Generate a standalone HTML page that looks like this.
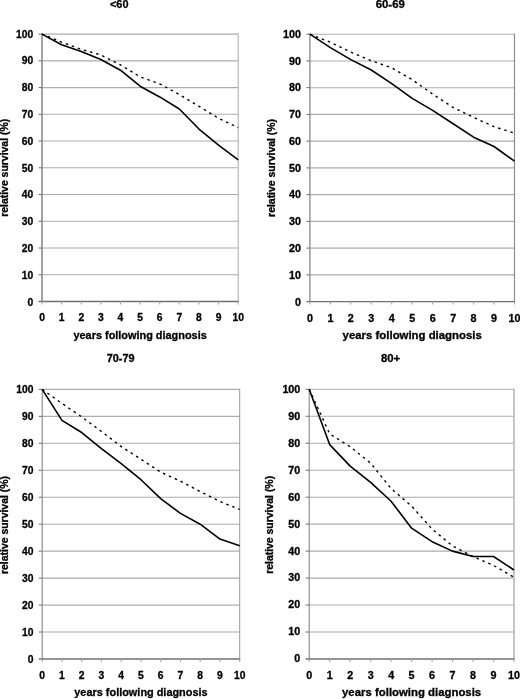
<!DOCTYPE html><html><head><meta charset="utf-8"><title>Relative survival</title>
<style>html,body{margin:0;padding:0;background:#fff;overflow:hidden}svg{display:block}text{stroke:#000;stroke-width:0.3px;font-family:"Liberation Sans",sans-serif;font-weight:bold;fill:#000}</style></head><body>
<svg width="520" height="699" viewBox="0 0 520 699">
<rect width="520" height="699" fill="#fff"/>
<g><line x1="42.00" y1="34.10" x2="238.20" y2="34.10" stroke="#adadad" stroke-width="1.1"/>
<line x1="42.00" y1="60.84" x2="238.20" y2="60.84" stroke="#adadad" stroke-width="1.1"/>
<line x1="42.00" y1="87.58" x2="238.20" y2="87.58" stroke="#adadad" stroke-width="1.1"/>
<line x1="42.00" y1="114.32" x2="238.20" y2="114.32" stroke="#adadad" stroke-width="1.1"/>
<line x1="42.00" y1="141.06" x2="238.20" y2="141.06" stroke="#adadad" stroke-width="1.1"/>
<line x1="42.00" y1="167.80" x2="238.20" y2="167.80" stroke="#adadad" stroke-width="1.1"/>
<line x1="42.00" y1="194.54" x2="238.20" y2="194.54" stroke="#adadad" stroke-width="1.1"/>
<line x1="42.00" y1="221.28" x2="238.20" y2="221.28" stroke="#adadad" stroke-width="1.1"/>
<line x1="42.00" y1="248.02" x2="238.20" y2="248.02" stroke="#adadad" stroke-width="1.1"/>
<line x1="42.00" y1="274.76" x2="238.20" y2="274.76" stroke="#adadad" stroke-width="1.1"/>
<line x1="238.20" y1="33.60" x2="238.20" y2="302.00" stroke="#b8b8b8" stroke-width="1.2"/>
<line x1="42.00" y1="33.60" x2="42.00" y2="302.00" stroke="#858585" stroke-width="1.5"/>
<line x1="38.50" y1="301.50" x2="238.70" y2="301.50" stroke="#707070" stroke-width="1.3"/>
<line x1="38.50" y1="34.10" x2="42.00" y2="34.10" stroke="#707070" stroke-width="1"/>
<line x1="38.50" y1="60.84" x2="42.00" y2="60.84" stroke="#707070" stroke-width="1"/>
<line x1="38.50" y1="87.58" x2="42.00" y2="87.58" stroke="#707070" stroke-width="1"/>
<line x1="38.50" y1="114.32" x2="42.00" y2="114.32" stroke="#707070" stroke-width="1"/>
<line x1="38.50" y1="141.06" x2="42.00" y2="141.06" stroke="#707070" stroke-width="1"/>
<line x1="38.50" y1="167.80" x2="42.00" y2="167.80" stroke="#707070" stroke-width="1"/>
<line x1="38.50" y1="194.54" x2="42.00" y2="194.54" stroke="#707070" stroke-width="1"/>
<line x1="38.50" y1="221.28" x2="42.00" y2="221.28" stroke="#707070" stroke-width="1"/>
<line x1="38.50" y1="248.02" x2="42.00" y2="248.02" stroke="#707070" stroke-width="1"/>
<line x1="38.50" y1="274.76" x2="42.00" y2="274.76" stroke="#707070" stroke-width="1"/>
<line x1="42.00" y1="301.50" x2="42.00" y2="304.50" stroke="#a8a8a8" stroke-width="1.1"/>
<line x1="61.62" y1="301.50" x2="61.62" y2="304.50" stroke="#a8a8a8" stroke-width="1.1"/>
<line x1="81.24" y1="301.50" x2="81.24" y2="304.50" stroke="#a8a8a8" stroke-width="1.1"/>
<line x1="100.86" y1="301.50" x2="100.86" y2="304.50" stroke="#a8a8a8" stroke-width="1.1"/>
<line x1="120.48" y1="301.50" x2="120.48" y2="304.50" stroke="#a8a8a8" stroke-width="1.1"/>
<line x1="140.10" y1="301.50" x2="140.10" y2="304.50" stroke="#a8a8a8" stroke-width="1.1"/>
<line x1="159.72" y1="301.50" x2="159.72" y2="304.50" stroke="#a8a8a8" stroke-width="1.1"/>
<line x1="179.34" y1="301.50" x2="179.34" y2="304.50" stroke="#a8a8a8" stroke-width="1.1"/>
<line x1="198.96" y1="301.50" x2="198.96" y2="304.50" stroke="#a8a8a8" stroke-width="1.1"/>
<line x1="218.58" y1="301.50" x2="218.58" y2="304.50" stroke="#a8a8a8" stroke-width="1.1"/>
<line x1="238.20" y1="301.50" x2="238.20" y2="304.50" stroke="#a8a8a8" stroke-width="1.1"/>
<text transform="translate(33.30 37.60) scale(1.0 1)" font-size="10.3" text-anchor="end">100</text>
<text transform="translate(33.30 64.40) scale(1.0 1)" font-size="10.3" text-anchor="end">90</text>
<text transform="translate(33.30 91.19) scale(1.0 1)" font-size="10.3" text-anchor="end">80</text>
<text transform="translate(33.30 117.98) scale(1.0 1)" font-size="10.3" text-anchor="end">70</text>
<text transform="translate(33.30 144.78) scale(1.0 1)" font-size="10.3" text-anchor="end">60</text>
<text transform="translate(33.30 171.57) scale(1.0 1)" font-size="10.3" text-anchor="end">50</text>
<text transform="translate(33.30 198.37) scale(1.0 1)" font-size="10.3" text-anchor="end">40</text>
<text transform="translate(33.30 225.16) scale(1.0 1)" font-size="10.3" text-anchor="end">30</text>
<text transform="translate(33.30 251.96) scale(1.0 1)" font-size="10.3" text-anchor="end">20</text>
<text transform="translate(33.30 278.75) scale(1.0 1)" font-size="10.3" text-anchor="end">10</text>
<text transform="translate(33.30 305.55) scale(1.0 1)" font-size="10.3" text-anchor="end">0</text>
<text transform="translate(42.00 321.40) scale(1.0 1)" font-size="10.3" text-anchor="middle">0</text>
<text transform="translate(61.62 321.40) scale(1.0 1)" font-size="10.3" text-anchor="middle">1</text>
<text transform="translate(81.24 321.40) scale(1.0 1)" font-size="10.3" text-anchor="middle">2</text>
<text transform="translate(100.86 321.40) scale(1.0 1)" font-size="10.3" text-anchor="middle">3</text>
<text transform="translate(120.48 321.40) scale(1.0 1)" font-size="10.3" text-anchor="middle">4</text>
<text transform="translate(140.10 321.40) scale(1.0 1)" font-size="10.3" text-anchor="middle">5</text>
<text transform="translate(159.72 321.40) scale(1.0 1)" font-size="10.3" text-anchor="middle">6</text>
<text transform="translate(179.34 321.40) scale(1.0 1)" font-size="10.3" text-anchor="middle">7</text>
<text transform="translate(198.96 321.40) scale(1.0 1)" font-size="10.3" text-anchor="middle">8</text>
<text transform="translate(218.58 321.40) scale(1.0 1)" font-size="10.3" text-anchor="middle">9</text>
<text transform="translate(238.20 321.40) scale(1.0 1)" font-size="10.3" text-anchor="middle">10</text>
<text transform="translate(119.20 7.75) scale(1.0 1)" font-size="10.9" text-anchor="middle">&lt;60</text>
<text transform="translate(140.10 338.90) scale(1.0 1)" font-size="10.9" text-anchor="middle" textLength="133.3" lengthAdjust="spacing">years following diagnosis</text>
<text transform="translate(8.10 167.80) scale(1.0 1) rotate(-90)" font-size="10.5" text-anchor="middle" textLength="98" lengthAdjust="spacing">relative survival (%)</text>
<polyline points="42.00,34.10 61.62,42.12 81.24,49.34 100.86,54.96 120.48,64.85 140.10,76.88 159.72,83.84 179.34,94.53 198.96,106.30 218.58,118.33 238.20,127.69" fill="none" stroke="#000" stroke-width="1.4" stroke-dasharray="2.5 3.9"/>
<polyline points="42.00,34.10 61.62,44.80 81.24,51.48 100.86,59.50 120.48,70.20 140.10,86.24 159.72,96.94 179.34,108.97 198.96,129.03 218.58,145.07 238.20,159.78" fill="none" stroke="#000" stroke-width="1.6" stroke-linejoin="round"/></g>
<g><line x1="309.90" y1="34.20" x2="514.50" y2="34.20" stroke="#adadad" stroke-width="1.1"/>
<line x1="309.90" y1="60.94" x2="514.50" y2="60.94" stroke="#adadad" stroke-width="1.1"/>
<line x1="309.90" y1="87.68" x2="514.50" y2="87.68" stroke="#adadad" stroke-width="1.1"/>
<line x1="309.90" y1="114.42" x2="514.50" y2="114.42" stroke="#adadad" stroke-width="1.1"/>
<line x1="309.90" y1="141.16" x2="514.50" y2="141.16" stroke="#adadad" stroke-width="1.1"/>
<line x1="309.90" y1="167.90" x2="514.50" y2="167.90" stroke="#adadad" stroke-width="1.1"/>
<line x1="309.90" y1="194.64" x2="514.50" y2="194.64" stroke="#adadad" stroke-width="1.1"/>
<line x1="309.90" y1="221.38" x2="514.50" y2="221.38" stroke="#adadad" stroke-width="1.1"/>
<line x1="309.90" y1="248.12" x2="514.50" y2="248.12" stroke="#adadad" stroke-width="1.1"/>
<line x1="309.90" y1="274.86" x2="514.50" y2="274.86" stroke="#adadad" stroke-width="1.1"/>
<line x1="514.50" y1="33.70" x2="514.50" y2="302.10" stroke="#888" stroke-width="1.1"/>
<line x1="309.90" y1="33.70" x2="309.90" y2="302.10" stroke="#888" stroke-width="1.3"/>
<line x1="306.40" y1="301.60" x2="515.00" y2="301.60" stroke="#707070" stroke-width="1.3"/>
<line x1="306.40" y1="34.20" x2="309.90" y2="34.20" stroke="#707070" stroke-width="1"/>
<line x1="306.40" y1="60.94" x2="309.90" y2="60.94" stroke="#707070" stroke-width="1"/>
<line x1="306.40" y1="87.68" x2="309.90" y2="87.68" stroke="#707070" stroke-width="1"/>
<line x1="306.40" y1="114.42" x2="309.90" y2="114.42" stroke="#707070" stroke-width="1"/>
<line x1="306.40" y1="141.16" x2="309.90" y2="141.16" stroke="#707070" stroke-width="1"/>
<line x1="306.40" y1="167.90" x2="309.90" y2="167.90" stroke="#707070" stroke-width="1"/>
<line x1="306.40" y1="194.64" x2="309.90" y2="194.64" stroke="#707070" stroke-width="1"/>
<line x1="306.40" y1="221.38" x2="309.90" y2="221.38" stroke="#707070" stroke-width="1"/>
<line x1="306.40" y1="248.12" x2="309.90" y2="248.12" stroke="#707070" stroke-width="1"/>
<line x1="306.40" y1="274.86" x2="309.90" y2="274.86" stroke="#707070" stroke-width="1"/>
<line x1="309.90" y1="301.60" x2="309.90" y2="304.60" stroke="#a8a8a8" stroke-width="1.1"/>
<line x1="330.36" y1="301.60" x2="330.36" y2="304.60" stroke="#a8a8a8" stroke-width="1.1"/>
<line x1="350.82" y1="301.60" x2="350.82" y2="304.60" stroke="#a8a8a8" stroke-width="1.1"/>
<line x1="371.28" y1="301.60" x2="371.28" y2="304.60" stroke="#a8a8a8" stroke-width="1.1"/>
<line x1="391.74" y1="301.60" x2="391.74" y2="304.60" stroke="#a8a8a8" stroke-width="1.1"/>
<line x1="412.20" y1="301.60" x2="412.20" y2="304.60" stroke="#a8a8a8" stroke-width="1.1"/>
<line x1="432.66" y1="301.60" x2="432.66" y2="304.60" stroke="#a8a8a8" stroke-width="1.1"/>
<line x1="453.12" y1="301.60" x2="453.12" y2="304.60" stroke="#a8a8a8" stroke-width="1.1"/>
<line x1="473.58" y1="301.60" x2="473.58" y2="304.60" stroke="#a8a8a8" stroke-width="1.1"/>
<line x1="494.04" y1="301.60" x2="494.04" y2="304.60" stroke="#a8a8a8" stroke-width="1.1"/>
<line x1="514.50" y1="301.60" x2="514.50" y2="304.60" stroke="#a8a8a8" stroke-width="1.1"/>
<text transform="translate(300.90 37.70) scale(1.044 1)" font-size="10.3" text-anchor="end">100</text>
<text transform="translate(300.90 64.50) scale(1.044 1)" font-size="10.3" text-anchor="end">90</text>
<text transform="translate(300.90 91.29) scale(1.044 1)" font-size="10.3" text-anchor="end">80</text>
<text transform="translate(300.90 118.09) scale(1.044 1)" font-size="10.3" text-anchor="end">70</text>
<text transform="translate(300.90 144.88) scale(1.044 1)" font-size="10.3" text-anchor="end">60</text>
<text transform="translate(300.90 171.68) scale(1.044 1)" font-size="10.3" text-anchor="end">50</text>
<text transform="translate(300.90 198.47) scale(1.044 1)" font-size="10.3" text-anchor="end">40</text>
<text transform="translate(300.90 225.26) scale(1.044 1)" font-size="10.3" text-anchor="end">30</text>
<text transform="translate(300.90 252.06) scale(1.044 1)" font-size="10.3" text-anchor="end">20</text>
<text transform="translate(300.90 278.86) scale(1.044 1)" font-size="10.3" text-anchor="end">10</text>
<text transform="translate(300.90 305.65) scale(1.044 1)" font-size="10.3" text-anchor="end">0</text>
<text transform="translate(309.90 321.50) scale(1.044 1)" font-size="10.3" text-anchor="middle">0</text>
<text transform="translate(330.36 321.50) scale(1.044 1)" font-size="10.3" text-anchor="middle">1</text>
<text transform="translate(350.82 321.50) scale(1.044 1)" font-size="10.3" text-anchor="middle">2</text>
<text transform="translate(371.28 321.50) scale(1.044 1)" font-size="10.3" text-anchor="middle">3</text>
<text transform="translate(391.74 321.50) scale(1.044 1)" font-size="10.3" text-anchor="middle">4</text>
<text transform="translate(412.20 321.50) scale(1.044 1)" font-size="10.3" text-anchor="middle">5</text>
<text transform="translate(432.66 321.50) scale(1.044 1)" font-size="10.3" text-anchor="middle">6</text>
<text transform="translate(453.12 321.50) scale(1.044 1)" font-size="10.3" text-anchor="middle">7</text>
<text transform="translate(473.58 321.50) scale(1.044 1)" font-size="10.3" text-anchor="middle">8</text>
<text transform="translate(494.04 321.50) scale(1.044 1)" font-size="10.3" text-anchor="middle">9</text>
<text transform="translate(514.50 321.50) scale(1.044 1)" font-size="10.3" text-anchor="middle">10</text>
<text transform="translate(390.25 7.80) scale(1.044 1)" font-size="10.9" text-anchor="middle">60-69</text>
<text transform="translate(412.20 339.00) scale(1.044 1)" font-size="10.9" text-anchor="middle" textLength="133.3" lengthAdjust="spacing">years following diagnosis</text>
<text transform="translate(274.80 167.90) scale(1.044 1) rotate(-90)" font-size="10.5" text-anchor="middle" textLength="98" lengthAdjust="spacing">relative survival (%)</text>
<polyline points="309.90,34.20 330.36,42.22 350.82,52.12 371.28,60.67 391.74,67.89 412.20,79.66 432.66,94.10 453.12,107.47 473.58,117.36 494.04,126.72 514.50,133.14" fill="none" stroke="#000" stroke-width="1.4" stroke-dasharray="2.5 3.9"/>
<polyline points="309.90,34.20 330.36,47.57 350.82,59.60 371.28,70.03 391.74,83.67 412.20,98.38 432.66,110.41 453.12,123.78 473.58,137.15 494.04,146.51 514.50,161.22" fill="none" stroke="#000" stroke-width="1.6" stroke-linejoin="round"/></g>
<g><line x1="42.20" y1="389.40" x2="239.70" y2="389.40" stroke="#adadad" stroke-width="1.1"/>
<line x1="42.20" y1="416.36" x2="239.70" y2="416.36" stroke="#adadad" stroke-width="1.1"/>
<line x1="42.20" y1="443.32" x2="239.70" y2="443.32" stroke="#adadad" stroke-width="1.1"/>
<line x1="42.20" y1="470.28" x2="239.70" y2="470.28" stroke="#adadad" stroke-width="1.1"/>
<line x1="42.20" y1="497.24" x2="239.70" y2="497.24" stroke="#adadad" stroke-width="1.1"/>
<line x1="42.20" y1="524.20" x2="239.70" y2="524.20" stroke="#adadad" stroke-width="1.1"/>
<line x1="42.20" y1="551.16" x2="239.70" y2="551.16" stroke="#adadad" stroke-width="1.1"/>
<line x1="42.20" y1="578.12" x2="239.70" y2="578.12" stroke="#adadad" stroke-width="1.1"/>
<line x1="42.20" y1="605.08" x2="239.70" y2="605.08" stroke="#adadad" stroke-width="1.1"/>
<line x1="42.20" y1="632.04" x2="239.70" y2="632.04" stroke="#adadad" stroke-width="1.1"/>
<line x1="239.70" y1="388.90" x2="239.70" y2="659.50" stroke="#999" stroke-width="1.0"/>
<line x1="42.20" y1="388.90" x2="42.20" y2="659.50" stroke="#7a7a7a" stroke-width="1.0"/>
<line x1="38.70" y1="659.00" x2="240.20" y2="659.00" stroke="#707070" stroke-width="1.3"/>
<line x1="38.70" y1="389.40" x2="42.20" y2="389.40" stroke="#707070" stroke-width="1"/>
<line x1="38.70" y1="416.36" x2="42.20" y2="416.36" stroke="#707070" stroke-width="1"/>
<line x1="38.70" y1="443.32" x2="42.20" y2="443.32" stroke="#707070" stroke-width="1"/>
<line x1="38.70" y1="470.28" x2="42.20" y2="470.28" stroke="#707070" stroke-width="1"/>
<line x1="38.70" y1="497.24" x2="42.20" y2="497.24" stroke="#707070" stroke-width="1"/>
<line x1="38.70" y1="524.20" x2="42.20" y2="524.20" stroke="#707070" stroke-width="1"/>
<line x1="38.70" y1="551.16" x2="42.20" y2="551.16" stroke="#707070" stroke-width="1"/>
<line x1="38.70" y1="578.12" x2="42.20" y2="578.12" stroke="#707070" stroke-width="1"/>
<line x1="38.70" y1="605.08" x2="42.20" y2="605.08" stroke="#707070" stroke-width="1"/>
<line x1="38.70" y1="632.04" x2="42.20" y2="632.04" stroke="#707070" stroke-width="1"/>
<line x1="42.20" y1="659.00" x2="42.20" y2="662.00" stroke="#a8a8a8" stroke-width="1.1"/>
<line x1="61.95" y1="659.00" x2="61.95" y2="662.00" stroke="#a8a8a8" stroke-width="1.1"/>
<line x1="81.70" y1="659.00" x2="81.70" y2="662.00" stroke="#a8a8a8" stroke-width="1.1"/>
<line x1="101.45" y1="659.00" x2="101.45" y2="662.00" stroke="#a8a8a8" stroke-width="1.1"/>
<line x1="121.20" y1="659.00" x2="121.20" y2="662.00" stroke="#a8a8a8" stroke-width="1.1"/>
<line x1="140.95" y1="659.00" x2="140.95" y2="662.00" stroke="#a8a8a8" stroke-width="1.1"/>
<line x1="160.70" y1="659.00" x2="160.70" y2="662.00" stroke="#a8a8a8" stroke-width="1.1"/>
<line x1="180.45" y1="659.00" x2="180.45" y2="662.00" stroke="#a8a8a8" stroke-width="1.1"/>
<line x1="200.20" y1="659.00" x2="200.20" y2="662.00" stroke="#a8a8a8" stroke-width="1.1"/>
<line x1="219.95" y1="659.00" x2="219.95" y2="662.00" stroke="#a8a8a8" stroke-width="1.1"/>
<line x1="239.70" y1="659.00" x2="239.70" y2="662.00" stroke="#a8a8a8" stroke-width="1.1"/>
<text transform="translate(33.50 392.85) scale(1.0 1)" font-size="10.3" text-anchor="end">100</text>
<text transform="translate(33.50 419.81) scale(1.0 1)" font-size="10.3" text-anchor="end">90</text>
<text transform="translate(33.50 446.78) scale(1.0 1)" font-size="10.3" text-anchor="end">80</text>
<text transform="translate(33.50 473.74) scale(1.0 1)" font-size="10.3" text-anchor="end">70</text>
<text transform="translate(33.50 500.71) scale(1.0 1)" font-size="10.3" text-anchor="end">60</text>
<text transform="translate(33.50 527.68) scale(1.0 1)" font-size="10.3" text-anchor="end">50</text>
<text transform="translate(33.50 554.64) scale(1.0 1)" font-size="10.3" text-anchor="end">40</text>
<text transform="translate(33.50 581.61) scale(1.0 1)" font-size="10.3" text-anchor="end">30</text>
<text transform="translate(33.50 608.57) scale(1.0 1)" font-size="10.3" text-anchor="end">20</text>
<text transform="translate(33.50 635.53) scale(1.0 1)" font-size="10.3" text-anchor="end">10</text>
<text transform="translate(33.50 662.50) scale(1.0 1)" font-size="10.3" text-anchor="end">0</text>
<text transform="translate(42.20 678.90) scale(1.0 1)" font-size="10.3" text-anchor="middle">0</text>
<text transform="translate(61.95 678.90) scale(1.0 1)" font-size="10.3" text-anchor="middle">1</text>
<text transform="translate(81.70 678.90) scale(1.0 1)" font-size="10.3" text-anchor="middle">2</text>
<text transform="translate(101.45 678.90) scale(1.0 1)" font-size="10.3" text-anchor="middle">3</text>
<text transform="translate(121.20 678.90) scale(1.0 1)" font-size="10.3" text-anchor="middle">4</text>
<text transform="translate(140.95 678.90) scale(1.0 1)" font-size="10.3" text-anchor="middle">5</text>
<text transform="translate(160.70 678.90) scale(1.0 1)" font-size="10.3" text-anchor="middle">6</text>
<text transform="translate(180.45 678.90) scale(1.0 1)" font-size="10.3" text-anchor="middle">7</text>
<text transform="translate(200.20 678.90) scale(1.0 1)" font-size="10.3" text-anchor="middle">8</text>
<text transform="translate(219.95 678.90) scale(1.0 1)" font-size="10.3" text-anchor="middle">9</text>
<text transform="translate(239.70 678.90) scale(1.0 1)" font-size="10.3" text-anchor="middle">10</text>
<text transform="translate(120.60 362.30) scale(1.0 1)" font-size="10.9" text-anchor="middle">70-79</text>
<text transform="translate(140.95 696.40) scale(1.0 1)" font-size="10.9" text-anchor="middle" textLength="133.3" lengthAdjust="spacing">years following diagnosis</text>
<text transform="translate(7.75 525.00) scale(1.0 1) rotate(-90)" font-size="10.5" text-anchor="middle" textLength="98" lengthAdjust="spacing">relative survival (%)</text>
<polyline points="42.20,389.40 61.95,403.42 81.70,416.90 101.45,431.46 121.20,446.56 140.95,459.23 160.70,472.17 180.45,481.06 200.20,491.58 219.95,501.55 239.70,509.37" fill="none" stroke="#000" stroke-width="1.4" stroke-dasharray="2.5 3.9"/>
<polyline points="42.20,389.40 61.95,420.40 81.70,432.54 101.45,448.71 121.20,463.54 140.95,479.72 160.70,498.59 180.45,513.42 200.20,524.20 219.95,539.03 239.70,545.77" fill="none" stroke="#000" stroke-width="1.6" stroke-linejoin="round"/></g>
<g><line x1="309.20" y1="389.30" x2="514.00" y2="389.30" stroke="#adadad" stroke-width="1.1"/>
<line x1="309.20" y1="416.27" x2="514.00" y2="416.27" stroke="#adadad" stroke-width="1.1"/>
<line x1="309.20" y1="443.24" x2="514.00" y2="443.24" stroke="#adadad" stroke-width="1.1"/>
<line x1="309.20" y1="470.21" x2="514.00" y2="470.21" stroke="#adadad" stroke-width="1.1"/>
<line x1="309.20" y1="497.18" x2="514.00" y2="497.18" stroke="#adadad" stroke-width="1.1"/>
<line x1="309.20" y1="524.15" x2="514.00" y2="524.15" stroke="#adadad" stroke-width="1.1"/>
<line x1="309.20" y1="551.12" x2="514.00" y2="551.12" stroke="#adadad" stroke-width="1.1"/>
<line x1="309.20" y1="578.09" x2="514.00" y2="578.09" stroke="#adadad" stroke-width="1.1"/>
<line x1="309.20" y1="605.06" x2="514.00" y2="605.06" stroke="#adadad" stroke-width="1.1"/>
<line x1="309.20" y1="632.03" x2="514.00" y2="632.03" stroke="#adadad" stroke-width="1.1"/>
<line x1="514.00" y1="388.80" x2="514.00" y2="659.50" stroke="#b8b8b8" stroke-width="1.6"/>
<line x1="309.20" y1="388.80" x2="309.20" y2="659.50" stroke="#7a7a7a" stroke-width="1.0"/>
<line x1="305.70" y1="659.00" x2="514.50" y2="659.00" stroke="#707070" stroke-width="1.3"/>
<line x1="305.70" y1="389.30" x2="309.20" y2="389.30" stroke="#707070" stroke-width="1"/>
<line x1="305.70" y1="416.27" x2="309.20" y2="416.27" stroke="#707070" stroke-width="1"/>
<line x1="305.70" y1="443.24" x2="309.20" y2="443.24" stroke="#707070" stroke-width="1"/>
<line x1="305.70" y1="470.21" x2="309.20" y2="470.21" stroke="#707070" stroke-width="1"/>
<line x1="305.70" y1="497.18" x2="309.20" y2="497.18" stroke="#707070" stroke-width="1"/>
<line x1="305.70" y1="524.15" x2="309.20" y2="524.15" stroke="#707070" stroke-width="1"/>
<line x1="305.70" y1="551.12" x2="309.20" y2="551.12" stroke="#707070" stroke-width="1"/>
<line x1="305.70" y1="578.09" x2="309.20" y2="578.09" stroke="#707070" stroke-width="1"/>
<line x1="305.70" y1="605.06" x2="309.20" y2="605.06" stroke="#707070" stroke-width="1"/>
<line x1="305.70" y1="632.03" x2="309.20" y2="632.03" stroke="#707070" stroke-width="1"/>
<line x1="309.20" y1="659.00" x2="309.20" y2="662.00" stroke="#a8a8a8" stroke-width="1.1"/>
<line x1="329.68" y1="659.00" x2="329.68" y2="662.00" stroke="#a8a8a8" stroke-width="1.1"/>
<line x1="350.16" y1="659.00" x2="350.16" y2="662.00" stroke="#a8a8a8" stroke-width="1.1"/>
<line x1="370.64" y1="659.00" x2="370.64" y2="662.00" stroke="#a8a8a8" stroke-width="1.1"/>
<line x1="391.12" y1="659.00" x2="391.12" y2="662.00" stroke="#a8a8a8" stroke-width="1.1"/>
<line x1="411.60" y1="659.00" x2="411.60" y2="662.00" stroke="#a8a8a8" stroke-width="1.1"/>
<line x1="432.08" y1="659.00" x2="432.08" y2="662.00" stroke="#a8a8a8" stroke-width="1.1"/>
<line x1="452.56" y1="659.00" x2="452.56" y2="662.00" stroke="#a8a8a8" stroke-width="1.1"/>
<line x1="473.04" y1="659.00" x2="473.04" y2="662.00" stroke="#a8a8a8" stroke-width="1.1"/>
<line x1="493.52" y1="659.00" x2="493.52" y2="662.00" stroke="#a8a8a8" stroke-width="1.1"/>
<line x1="514.00" y1="659.00" x2="514.00" y2="662.00" stroke="#a8a8a8" stroke-width="1.1"/>
<text transform="translate(300.30 392.70) scale(1.044 1)" font-size="10.3" text-anchor="end">100</text>
<text transform="translate(300.30 419.67) scale(1.044 1)" font-size="10.3" text-anchor="end">90</text>
<text transform="translate(300.30 446.64) scale(1.044 1)" font-size="10.3" text-anchor="end">80</text>
<text transform="translate(300.30 473.61) scale(1.044 1)" font-size="10.3" text-anchor="end">70</text>
<text transform="translate(300.30 500.58) scale(1.044 1)" font-size="10.3" text-anchor="end">60</text>
<text transform="translate(300.30 527.55) scale(1.044 1)" font-size="10.3" text-anchor="end">50</text>
<text transform="translate(300.30 554.52) scale(1.044 1)" font-size="10.3" text-anchor="end">40</text>
<text transform="translate(300.30 581.49) scale(1.044 1)" font-size="10.3" text-anchor="end">30</text>
<text transform="translate(300.30 608.46) scale(1.044 1)" font-size="10.3" text-anchor="end">20</text>
<text transform="translate(300.30 635.43) scale(1.044 1)" font-size="10.3" text-anchor="end">10</text>
<text transform="translate(300.30 662.40) scale(1.044 1)" font-size="10.3" text-anchor="end">0</text>
<text transform="translate(309.20 678.90) scale(1.044 1)" font-size="10.3" text-anchor="middle">0</text>
<text transform="translate(329.68 678.90) scale(1.044 1)" font-size="10.3" text-anchor="middle">1</text>
<text transform="translate(350.16 678.90) scale(1.044 1)" font-size="10.3" text-anchor="middle">2</text>
<text transform="translate(370.64 678.90) scale(1.044 1)" font-size="10.3" text-anchor="middle">3</text>
<text transform="translate(391.12 678.90) scale(1.044 1)" font-size="10.3" text-anchor="middle">4</text>
<text transform="translate(411.60 678.90) scale(1.044 1)" font-size="10.3" text-anchor="middle">5</text>
<text transform="translate(432.08 678.90) scale(1.044 1)" font-size="10.3" text-anchor="middle">6</text>
<text transform="translate(452.56 678.90) scale(1.044 1)" font-size="10.3" text-anchor="middle">7</text>
<text transform="translate(473.04 678.90) scale(1.044 1)" font-size="10.3" text-anchor="middle">8</text>
<text transform="translate(493.52 678.90) scale(1.044 1)" font-size="10.3" text-anchor="middle">9</text>
<text transform="translate(514.00 678.90) scale(1.044 1)" font-size="10.3" text-anchor="middle">10</text>
<text transform="translate(390.60 362.30) scale(1.044 1)" font-size="10.9" text-anchor="middle">80+</text>
<text transform="translate(411.60 696.40) scale(1.044 1)" font-size="10.9" text-anchor="middle" textLength="133.3" lengthAdjust="spacing">years following diagnosis</text>
<text transform="translate(273.30 524.85) scale(1.044 1) rotate(-90)" font-size="10.5" text-anchor="middle" textLength="98" lengthAdjust="spacing">relative survival (%)</text>
<polyline points="309.20,389.30 329.68,433.80 350.16,446.75 370.64,463.20 391.12,488.55 411.60,506.08 432.08,529.00 452.56,546.00 473.04,556.51 493.52,565.41 514.00,577.28" fill="none" stroke="#000" stroke-width="1.4" stroke-dasharray="2.5 3.9"/>
<polyline points="309.20,389.30 329.68,444.59 350.16,466.16 370.64,482.35 391.12,501.23 411.60,528.20 432.08,541.68 452.56,551.12 473.04,556.51 493.52,556.51 514.00,570.00" fill="none" stroke="#000" stroke-width="1.6" stroke-linejoin="round"/></g>
</svg></body></html>
